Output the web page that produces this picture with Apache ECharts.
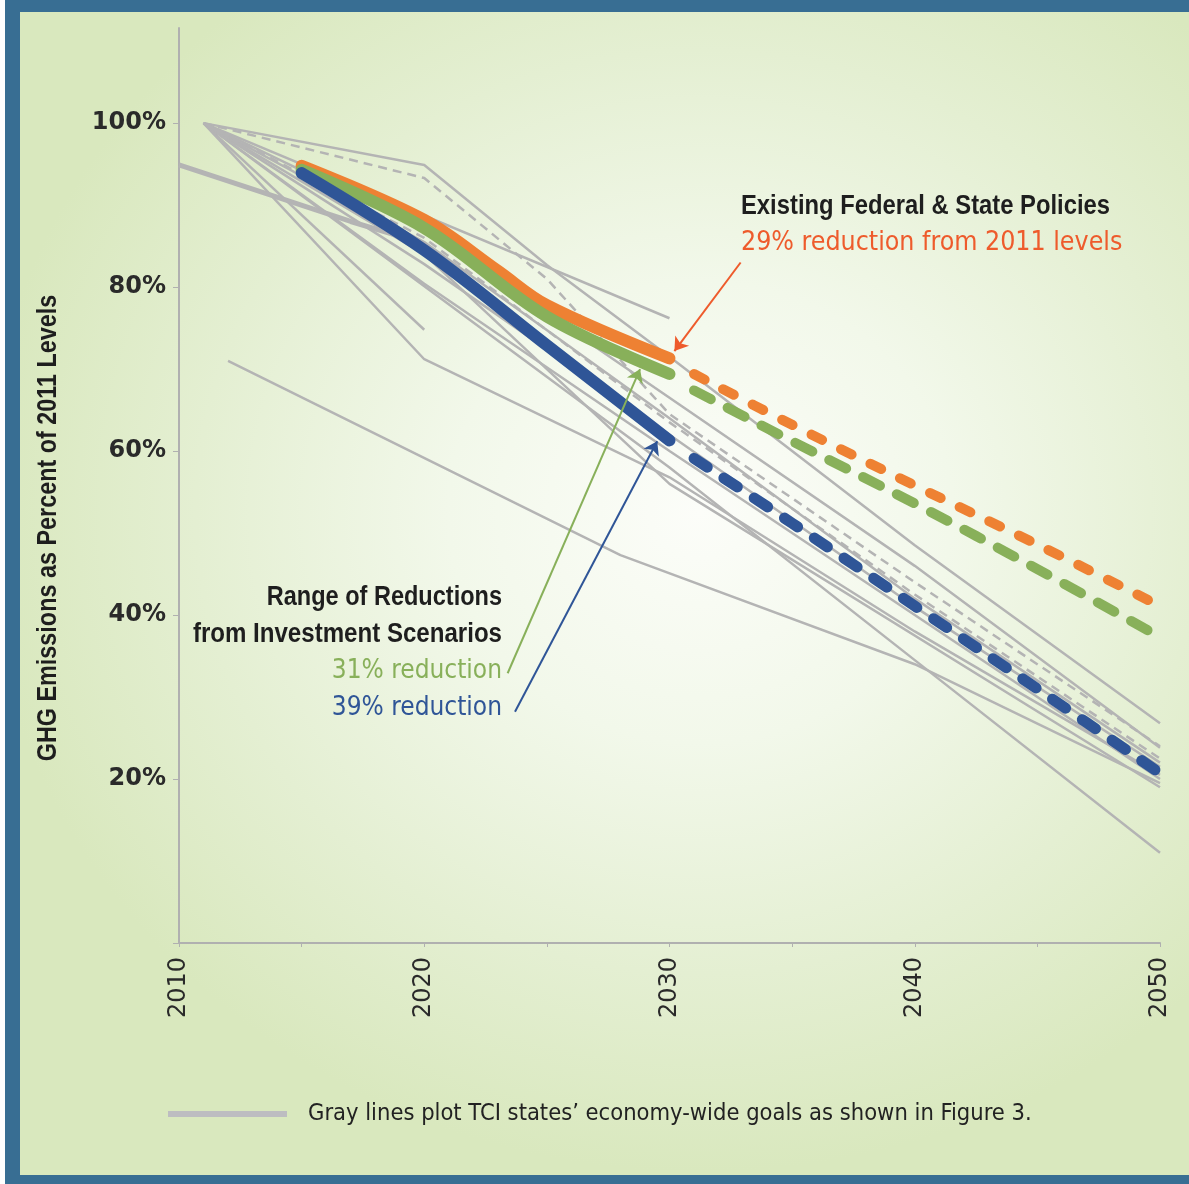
<!DOCTYPE html>
<html>
<head>
<meta charset="utf-8">
<script src="https://cdn.jsdelivr.net/npm/echarts@6/dist/echarts.min.js"></script>
<style>
html,body{margin:0;padding:0;background:#fff;}
#wrap{position:relative;width:1189px;height:1184px;overflow:hidden;background:#fff;}
#frame{position:absolute;left:5px;top:0;width:1184px;height:1184px;background:#386e93;}
#panel{position:absolute;left:20px;top:12px;width:1169px;height:1163px;
  background:radial-gradient(ellipse 720px 660px at 680px 500px,#fcfdf9 0%,#f2f8ea 35%,#e4efd2 70%,#d9e8be 100%);}
#chart{position:absolute;left:0;top:0;width:1189px;height:1184px;}
</style>
</head>
<body>
<div id="wrap"><div id="frame"></div><div id="panel"></div><div id="chart"></div></div>
<script>
// ---- data (year, % of 2011 levels) ----
var xTicks = [2010, 2020, 2030, 2040, 2050];
var yTicks = [20, 40, 60, 80, 100];

var existingSolid = [[2015,94.8],[2020,88.2],[2023,82],[2025,77.8],[2030,71.3]];
var existingDash  = [[2031,69.4],[2035,63.2],[2040,55.8],[2045,48.6],[2050,41.1]];
var scen31Solid   = [[2015,94.3],[2020,87.2],[2025,76.4],[2030,69.4]];
var scen31Dash    = [[2031,67.4],[2035,61.2],[2040,53.6],[2045,45.6],[2050,37.3]];
var scen39Solid   = [[2015,93.9],[2020,84.5],[2025,72.9],[2030,61.3]];
var scen39Dash    = [[2031,59.1],[2035,51.2],[2040,41.1],[2045,31.0],[2050,20.7]];

var grayA = [[2011,100],[2020,94.9],[2025,82.7],[2030,71.5],[2040,48.5],[2050,26.8]];
var grayB = [[2011,100],[2030,76.2]];
var grayC = [[2011,100],[2020,93.3],[2025,81],[2030,64.5],[2040,44],[2050,24]];
var grayD = [[2011,100],[2020,74.8]];
var grayE = [[2012,71],[2028,47.3],[2040,34],[2050,19.5]];
var grayF = [[2011,100],[2020,71.2],[2030,56.8],[2040,38],[2050,20.5]];
var grayG = [[2010,94.9],[2017,88],[2020,85.3]];
var grayH = [[2011,100],[2030,58],[2040,34.5],[2050,11]];
var grayI = [[2011,100],[2020,82.8],[2030,62],[2040,41],[2050,21.5]];
var grayJ = [[2011,100],[2020,80.4],[2030,60],[2040,40],[2050,20]];
var grayK = [[2011,100],[2020,87],[2030,66.5],[2040,46],[2050,23.8]];
var grayL = [[2011,100],[2020,85.5],[2030,64],[2040,42],[2050,22]];
var grayM = [[2011,100],[2020,84],[2030,56],[2050,19]];
var grayN = [[2011,100],[2020,86],[2030,63.5],[2040,42.5],[2050,22.5]];

var arrowExisting = [[2032.9,83.0],[2030.2,72.2]];
var arrow31 = [[2023.4,32.9],[2028.8,70.0]];
var arrow39 = [[2023.7,28.2],[2029.5,61.2]];

var yTitle = 'GHG Emissions as Percent of 2011 Levels';
var legendText = 'Gray lines plot TCI states\u2019 economy-wide goals as shown in Figure 3.';

// ---- build ----
var GRAY = '#b4b4b4';
var ORANGE = '#ee8133', GREEN = '#88b05a', BLUE = '#2f5597';
var series = [];
function gray(d, opts) {
  opts = opts || {};
  series.push({
    name: legendText, type: 'line', data: d, symbol: 'none', silent: true,
    z: 2, color: '#bdbdc1',
    lineStyle: {color: GRAY, width: opts.width || 2.5, type: opts.dash ? [9, 6] : 'solid'}
  });
}
gray(grayA); gray(grayB); gray(grayC, {dash: true}); gray(grayD); gray(grayE);
gray(grayF); gray(grayG, {width: 5}); gray(grayH); gray(grayI); gray(grayJ);
gray(grayK); gray(grayL); gray(grayM); gray(grayN, {dash: true});

function main(name, d, color, dash, width, z) {
  series.push({
    name: name, type: 'line', data: d, symbol: 'none', smooth: 0.35, silent: true, z: z,
    lineStyle: {color: color, width: width, cap: 'round', join: 'round',
      type: dash || 'solid'}
  });
}
main('Existing', existingSolid, ORANGE, null, 12, 5);
main('Existing 2050', existingDash, ORANGE, [12, 21], 10, 5);
main('31%', scen31Solid, GREEN, null, 12, 6);
main('31% 2050', scen31Dash, GREEN, [19, 19], 10, 6);
main('39%', scen39Solid, BLUE, null, 12, 7);
main('39% 2050', scen39Dash, BLUE, [16, 20], 11, 7);

function arrow(d, color) {
  series.push({
    type: 'lines', coordinateSystem: 'cartesian2d', silent: true, z: 8,
    symbol: ['none', 'arrow'], symbolSize: 13,
    lineStyle: {color: color, width: 2, opacity: 1, curveness: 0},
    data: [{coords: d}]
  });
}
arrow(arrowExisting, '#ee5b2c');
arrow(arrow31, GREEN);
arrow(arrow39, BLUE);

var chart = echarts.init(document.getElementById('chart'), null, {renderer: 'canvas'});
var FONT = '"DejaVu Sans Condensed","DejaVu Sans",sans-serif';
var BOLD = '"Liberation Sans",Arial,sans-serif';
var TICKFONT = '"DejaVu Sans",sans-serif';
function condensed(text, x, y, align, size, scale) {
  return {type: 'text', x: x, y: y, scaleX: scale, scaleY: 1, silent: true,
    style: {text: text, font: 'bold ' + size + 'px ' + BOLD, fill: '#1e1e1e',
      align: align, verticalAlign: 'middle'}};
}
chart.setOption({
  animation: false,
  backgroundColor: 'transparent',
  grid: {left: 179, right: 29, top: 28, bottom: 241, containLabel: false},
  xAxis: {
    type: 'value', min: 2010, max: 2050, interval: 5,
    axisLine: {lineStyle: {color: '#b0b0b0', width: 2}},
    axisTick: {show: true, length: 4, lineStyle: {color: '#b0b0b0'}},
    splitLine: {show: false},
    axisLabel: {
      rotate: 90, margin: 14, color: '#2a2a2a', fontSize: 24, fontFamily: TICKFONT,
      formatter: function (v) { return xTicks.indexOf(v) >= 0 ? String(v) : ''; }
    }
  },
  yAxis: {
    type: 'value', min: 0, max: 111.6, interval: 20,
    axisLine: {show: true, lineStyle: {color: '#b0b0b0', width: 2}},
    axisTick: {show: true, length: 6, lineStyle: {color: '#b0b0b0'}},
    splitLine: {show: false},
    axisLabel: {
      margin: 13, color: '#2a2a2a', fontSize: 24, fontWeight: 'bold', fontFamily: TICKFONT,
      padding: [5, 0, 0, 0], showMaxLabel: false,
      formatter: function (v) { return yTicks.indexOf(v) >= 0 ? v + '%' : ''; }
    }
  },
  legend: {
    show: true, left: 168, top: 1102, padding: 0, selectedMode: false,
    data: [{name: legendText, icon: 'rect'}],
    itemWidth: 119, itemHeight: 6,
    textStyle: {fontFamily: FONT, fontSize: 23.5, color: '#222', padding: [0, 0, 0, 16]}
  },
  graphic: [
    {type: 'text', x: 48, y: 528, rotation: Math.PI / 2, scaleX: 0.835, silent: true,
      style: {text: yTitle, font: 'bold 28px ' + BOLD, fill: '#1e1e1e',
        align: 'center', verticalAlign: 'middle'}},
    condensed('Existing Federal & State Policies', 741, 206, 'left', 28, 0.85),
    {type: 'text', x: 741, y: 243, silent: true, style: {text: '29% reduction from 2011 levels',
      font: '26.5px ' + FONT, fill: '#ee5b2c', align: 'left', verticalAlign: 'middle'}},
    condensed('Range of Reductions', 502, 597, 'right', 28, 0.84),
    condensed('from Investment Scenarios', 502, 634, 'right', 28, 0.86),
    {type: 'text', x: 502, y: 671, silent: true, style: {text: '31% reduction',
      font: '26px ' + FONT, fill: GREEN, align: 'right', verticalAlign: 'middle'}},
    {type: 'text', x: 502, y: 708, silent: true, style: {text: '39% reduction',
      font: '26px ' + FONT, fill: BLUE, align: 'right', verticalAlign: 'middle'}}
  ],
  series: series
});
</script>
</body>
</html>
